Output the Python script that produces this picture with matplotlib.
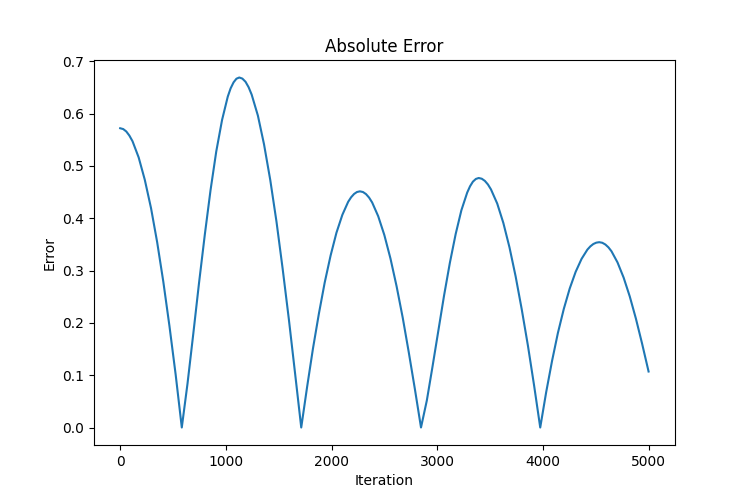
import matplotlib
matplotlib.use("Agg")
import matplotlib.pyplot as plt

iterations = [
    0, 29, 58, 87, 117, 175, 233, 292, 350, 408, 466, 525, 583,
    637, 692, 746, 801, 855, 909, 964, 1018, 1045, 1073, 1100, 1127,
    1156, 1186, 1215, 1244, 1303, 1361, 1420, 1479, 1537, 1596, 1654, 1713,
    1769, 1824, 1880, 1935, 1991, 2046, 2102, 2157, 2185, 2213, 2240, 2268,
    2297, 2326, 2355, 2384, 2441, 2499, 2557, 2615, 2673, 2730, 2788, 2846,
    2901, 2955, 3010, 3064, 3119, 3174, 3228, 3283, 3310, 3337, 3365, 3392,
    3421, 3450, 3479, 3508, 3567, 3625, 3683, 3741, 3799, 3858, 3916, 3974,
    4030, 4086, 4141, 4197, 4253, 4309, 4365, 4420, 4448, 4476, 4504, 4532,
    4561, 4590, 4619, 4648, 4705, 4763, 4821, 4879, 4937, 4999,
]
errors = [
    0.5720, 0.5704, 0.5658, 0.5580, 0.5471, 0.5162, 0.4734, 0.4192, 0.3541, 0.2789, 0.1943, 0.1010, 0.0000,
    0.0838, 0.1796, 0.2762, 0.3690, 0.4538, 0.5276, 0.5879, 0.6325, 0.6483, 0.6598, 0.6667, 0.6690,
    0.6669, 0.6608, 0.6505, 0.6363, 0.5961, 0.5412, 0.4730, 0.3932, 0.3037, 0.2067, 0.1046, 0.0000,
    0.0782, 0.1510, 0.2176, 0.2771, 0.3289, 0.3722, 0.4065, 0.4314, 0.4401, 0.4464, 0.4501, 0.4514,
    0.4501, 0.4461, 0.4394, 0.4301, 0.4039, 0.3680, 0.3231, 0.2700, 0.2100, 0.1441, 0.0736, 0.0000,
    0.0515, 0.1165, 0.1849, 0.2520, 0.3147, 0.3698, 0.4152, 0.4490, 0.4611, 0.4699, 0.4751, 0.4769,
    0.4755, 0.4714, 0.4646, 0.4551, 0.4281, 0.3910, 0.3444, 0.2891, 0.2259, 0.1559, 0.0802, 0.0000,
    0.0673, 0.1275, 0.1806, 0.2267, 0.2657, 0.2975, 0.3223, 0.3400, 0.3462, 0.3507, 0.3533, 0.3542,
    0.3531, 0.3498, 0.3444, 0.3369, 0.3156, 0.2865, 0.2505, 0.2082, 0.1608, 0.1070,
]

fig, ax = plt.subplots(figsize=(7.5, 5), dpi=100)
ax.plot(iterations, errors)
ax.set_title("Absolute Error")
ax.set_xlabel("Iteration")
ax.set_ylabel("Error")
fig.savefig("out.png", dpi=100)
